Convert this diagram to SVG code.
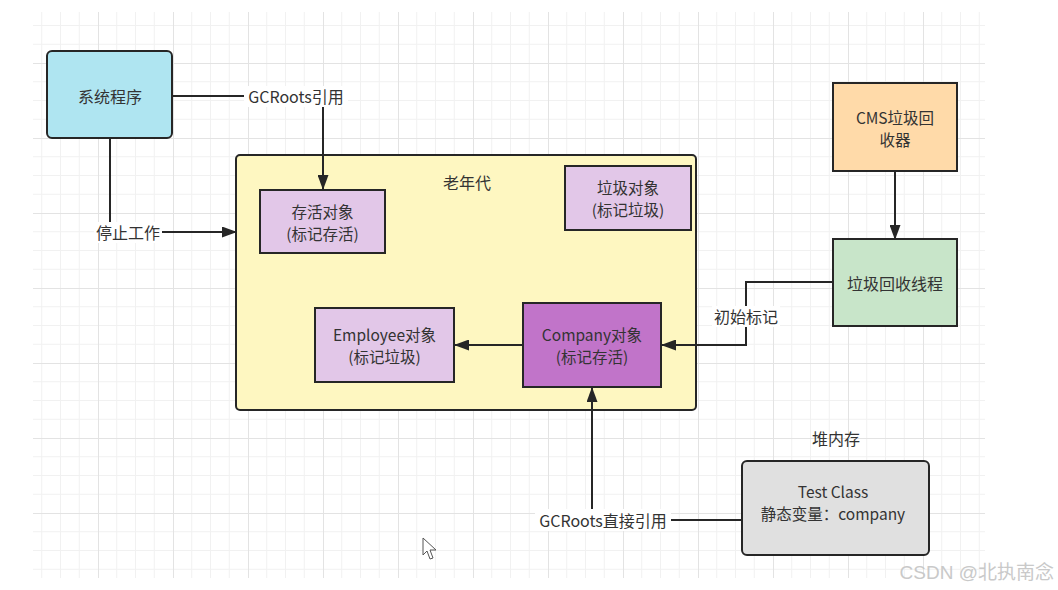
<svg xmlns="http://www.w3.org/2000/svg" width="1058" height="590" viewBox="0 0 1058 590">
<style>
  text { font-family: "Noto Sans CJK SC", "Noto Sans", sans-serif; font-size: 16px; fill: #333333; text-anchor: middle; dominant-baseline: central; }
  text.two { font-size: 15.5px; }
  .box { stroke: #262626; stroke-width: 2; }
  .edge { fill: none; stroke: #262626; stroke-width: 2; }
  .lblbg { fill: #ffffff; }
  .purple { fill: #e2c7e8; }
</style>
<defs>
  <pattern id="grid" width="75" height="75" patternUnits="userSpaceOnUse" x="23" y="-12">
    <path d="M18.75,0 V75 M37.5,0 V75 M56.25,0 V75 M0,18.75 H75 M0,37.5 H75 M0,56.25 H75" stroke="#f1f1f1" stroke-width="1" fill="none"/>
    <path d="M0.5,0 V75 M0,0.5 H75" stroke="#e3e3e3" stroke-width="1" fill="none"/>
  </pattern>
  <marker id="arrow" markerWidth="15" markerHeight="11" refX="14" refY="5.5" orient="auto" markerUnits="userSpaceOnUse">
    <path d="M0,0 L15,5.5 L0,11 Z" fill="#262626"/>
  </marker>
</defs>
<rect x="0" y="0" width="1058" height="590" fill="#ffffff"/>
<rect x="33" y="12" width="952" height="566" fill="url(#grid)"/>

<g id="node-oldgen">
  <rect class="box" x="236" y="155" width="460" height="255" rx="4" fill="#fef7c1"/>
  <text x="467" y="182">老年代</text>
</g>

<g id="connectors">
  <path class="edge" d="M173,96 H323 V189" marker-end="url(#arrow)"/>
  <path class="edge" d="M110,138 V232 H236" marker-end="url(#arrow)"/>
  <path class="edge" d="M523,345 H455" marker-end="url(#arrow)"/>
  <path class="edge" d="M833,282 H746 V345 H662" marker-end="url(#arrow)"/>
  <path class="edge" d="M895,171 V239" marker-end="url(#arrow)"/>
  <path class="edge" d="M742,520 H592 V388" marker-end="url(#arrow)"/>
  <rect class="lblbg" x="244" y="86" width="104" height="21"/>
  <text x="296" y="96">GCRoots引用</text>
  <rect class="lblbg" x="94" y="222" width="68" height="21"/>
  <text x="128" y="232">停止工作</text>
  <rect class="lblbg" x="712" y="306" width="68" height="21"/>
  <text x="746" y="316">初始标记</text>
  <rect class="lblbg" x="535" y="509" width="136" height="22"/>
  <text x="603" y="520">GCRoots直接引用</text>
</g>

<g id="node-system">
  <rect class="box" x="47" y="51" width="125" height="87" rx="5" fill="#afe5f1"/>
  <text x="110" y="96">系统程序</text>
</g>

<g id="node-alive">
  <rect class="box purple" x="260" y="190" width="125" height="63"/>
  <text class="two" x="322.5" y="211">存活对象</text>
  <text class="two" x="322.5" y="233">(标记存活)</text>
</g>

<g id="node-garbage">
  <rect class="box purple" x="565" y="166" width="126" height="64"/>
  <text class="two" x="628" y="187">垃圾对象</text>
  <text class="two" x="628" y="209">(标记垃圾)</text>
</g>

<g id="node-employee">
  <rect class="box purple" x="315" y="308" width="139" height="74"/>
  <text class="two" x="384.5" y="334">Employee对象</text>
  <text class="two" x="384.5" y="356">(标记垃圾)</text>
</g>

<g id="node-company">
  <rect class="box" x="523" y="303" width="138" height="84" fill="#c174c9"/>
  <text class="two" x="592" y="334">Company对象</text>
  <text class="two" x="592" y="356">(标记存活)</text>
</g>

<g id="node-cms">
  <rect class="box" x="833" y="83" width="124" height="88" fill="#ffdaa9"/>
  <text class="two" x="895" y="117">CMS垃圾回</text>
  <text class="two" x="895" y="139">收器</text>
</g>

<g id="node-gcthread">
  <rect class="box" x="833" y="239" width="124" height="87" fill="#c8e5c9"/>
  <text x="895" y="283">垃圾回收线程</text>
</g>

<g id="node-heap-label">
  <text x="836" y="438">堆内存</text>
</g>

<g id="node-testclass">
  <rect class="box" x="742" y="461" width="187" height="94" rx="5" fill="#e0e0e0"/>
  <text class="two" x="833" y="491">Test Class</text>
  <text class="two" x="833" y="513">静态变量：company</text>
</g>

<path d="M423,538 V555 L427,551 L430,559 L433,558 L430,550 L436,550 Z" fill="#ffffff" stroke="#555555" stroke-width="1"/>
<text x="1054" y="572" style="font-family:'Liberation Sans','Noto Sans CJK SC',sans-serif; font-size:19px; fill:#c9c9c9; text-anchor:end;">CSDN @北执南念</text>
</svg>
